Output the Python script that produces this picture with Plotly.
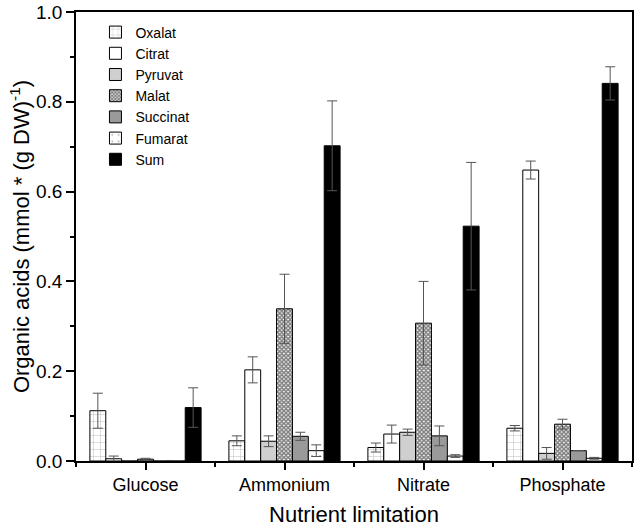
import plotly.graph_objects as go

categories = ["Glucose", "Ammonium", "Nitrate", "Phosphate"]
series_names = ["Oxalat", "Citrat", "Pyruvat", "Malat", "Succinat", "Fumarat", "Sum"]

oxalat   = [0.112, 0.045, 0.030, 0.073]
citrat   = [0.005, 0.203, 0.060, 0.648]
pyruvat  = [0.000, 0.044, 0.064, 0.017]
malat    = [0.004, 0.339, 0.307, 0.082]
succinat = [0.000, 0.055, 0.056, 0.023]
fumarat  = [0.000, 0.023, 0.011, 0.006]
total    = [0.119, 0.702, 0.523, 0.841]

oxalat_err   = [0.039, 0.011, 0.010, 0.006]
citrat_err   = [0.006, 0.029, 0.020, 0.020]
pyruvat_err  = [0.000, 0.012, 0.007, 0.013]
malat_err    = [0.002, 0.077, 0.093, 0.011]
succinat_err = [0.000, 0.009, 0.022, 0.000]
fumarat_err  = [0.000, 0.013, 0.003, 0.002]
total_err    = [0.044, 0.100, 0.142, 0.037]

values = [oxalat, citrat, pyruvat, malat, succinat, fumarat, total]
errors = [oxalat_err, citrat_err, pyruvat_err, malat_err, succinat_err, fumarat_err, total_err]

styles = [
    dict(color="white", pattern=dict(shape="+", fgcolor="#666", size=7, solidity=0.12, fillmode="overlay")),
    dict(color="white"),
    dict(color="#cfcfcf"),
    dict(color="white", pattern=dict(shape="x", fgcolor="black", size=3, solidity=0.75, fillmode="overlay")),
    dict(color="#9a9a9a"),
    dict(color="white", pattern=dict(shape=".", fgcolor="#444", size=8, solidity=0.05, fillmode="overlay")),
    dict(color="black"),
]

x = list(range(len(categories)))
fig = go.Figure()
for name, vals, errs, st in zip(series_names, values, errors, styles):
    marker = dict(line=dict(color="black", width=1), **st)
    fig.add_trace(go.Bar(
        name=name, x=x, y=vals,
        marker=marker,
        error_y=dict(type="data", array=errs, visible=True, color="#555", thickness=1, width=5),
    ))

font = "Liberation Sans, Arial, sans-serif"
fig.update_layout(
    width=638, height=531,
    margin=dict(l=76, r=6, t=12, b=70),
    plot_bgcolor="white", paper_bgcolor="white",
    barmode="group", bargap=0.2, bargroupgap=0,
    font=dict(family=font, color="black", size=18),
    showlegend=True,
    legend=dict(x=0.035, y=0.99, xanchor="left", yanchor="top",
                font=dict(size=14, family=font), bgcolor="rgba(0,0,0,0)",
                tracegroupgap=0, itemwidth=30),
    xaxis=dict(
        range=[-0.5, 3.5], tickvals=x, ticktext=categories, automargin=False,
        showline=True, linecolor="black", linewidth=1.5, mirror=True,
        ticks="outside", ticklen=7, tickwidth=1.5, tickcolor="black",
        minor=dict(tickvals=[-0.5, 0.5, 1.5, 2.5, 3.5], ticks="outside", ticklen=4, tickwidth=1.5, tickcolor="black"),
        showgrid=False, zeroline=False,
        tickfont=dict(size=18),
        title=dict(text="Nutrient limitation", font=dict(size=22), standoff=12),
    ),
    yaxis=dict(
        range=[0, 1.0], dtick=0.2, tickformat=".1f", automargin=False,
        ticklabeloverflow="allow",
        showline=True, linecolor="black", linewidth=1.5, mirror=True,
        ticks="outside", ticklen=8, tickwidth=1.5, tickcolor="black",
        minor=dict(dtick=0.1, ticks="outside", ticklen=4, tickwidth=1.5, tickcolor="black"),
        showgrid=False, zeroline=False,
        tickfont=dict(size=19),
        title=dict(text="Organic acids (mmol * (g DW)<sup>-1</sup>)", font=dict(size=22), standoff=0),
    ),
)

fig.write_html("out.html", config={"displayModeBar": False},
               post_script="document.body.style.margin='0px';")
